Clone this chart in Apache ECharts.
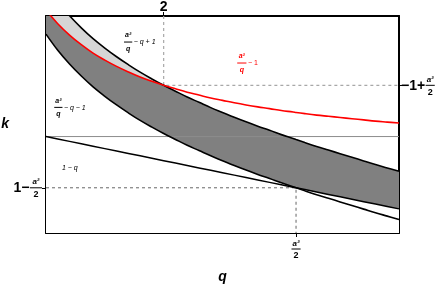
<!DOCTYPE html>
<html><head><meta charset="utf-8">
<script src="https://cdn.jsdelivr.net/npm/echarts@6/dist/echarts.min.js"></script>
<style>html,body{margin:0;padding:0;background:#fff}#c{width:436px;height:285px}</style>
</head><body><div id="c"></div>
<script>
// q sample points
const qVals = [1.0,1.1,1.2,1.3,1.4,1.5,1.6,1.7,1.8,1.9,2.0,2.1,2.2,2.3,2.4,2.5,2.6,2.7,2.8,2.9,3.0,3.1,3.125,3.2,3.3,3.4,3.5,3.6,3.7,3.8,3.9,4.0];
// a²/q − q + 1
const upperVals = [6.25,5.58,5.01,4.51,4.06,3.67,3.31,2.98,2.67,2.39,2.125,1.88,1.64,1.42,1.20,1.00,0.80,0.61,0.43,0.26,0.08,-0.08,-0.125,-0.25,-0.41,-0.56,-0.71,-0.86,-1.01,-1.16,-1.30,-1.44];
// a²/q − q − 1
const lowerVals = [4.25,3.58,3.01,2.51,2.06,1.67,1.31,0.98,0.67,0.39,0.125,-0.12,-0.36,-0.58,-0.80,-1.00,-1.20,-1.39,-1.57,-1.74,-1.92,-2.08,-2.125,-2.25,-2.41,-2.56,-2.71,-2.86,-3.01,-3.16,-3.30,-3.44];
// a²/q − 1
const redVals = [5.25,4.68,4.21,3.81,3.46,3.17,2.91,2.68,2.47,2.29,2.125,1.98,1.84,1.72,1.60,1.50,1.40,1.31,1.23,1.16,1.08,1.02,1.00,0.95,0.89,0.84,0.79,0.74,0.69,0.64,0.60,0.56];
// 1 − q
const lineVals = [0,-0.1,-0.2,-0.3,-0.4,-0.5,-0.6,-0.7,-0.8,-0.9,-1.0,-1.1,-1.2,-1.3,-1.4,-1.5,-1.6,-1.7,-1.8,-1.9,-2.0,-2.1,-2.125,-2.2,-2.3,-2.4,-2.5,-2.6,-2.7,-2.8,-2.9,-3.0];
const zeroVals = [[1,0],[4,0]];
const qRange = [1, 4];
const kRange = [-4, 5];
const qMark = 2;          // top tick
const kMarkTop = 2.125;   // −1 + a²/2
const qMarkBottom = 3.125; // a²/2
const kMarkBottom = -2.125; // 1 − a²/2

const pairs = v => qVals.map((q, i) => [q, v[i]]);
const darkLow = qVals.map((q, i) => Math.max(lowerVals[i], lineVals[i]));
const darkHigh = qVals.map((q, i) => Math.min(upperVals[i], redVals[i]));

const FONT = "'Liberation Sans', Arial, sans-serif";
const chart = echarts.init(document.getElementById('c'), null, {renderer: 'canvas'});

function axisCommon(pos, tickVals) {
  return {
    position: pos, type: 'value',
    axisLine: {show: true, onZero: false, lineStyle: {color: '#000', width: 2}},
    axisTick: {show: true, customValues: tickVals, length: 4, inside: false, lineStyle: {color: '#000', width: 1}},
    splitLine: {show: false},
    axisLabel: {show: false}
  };
}

const fillStyle = {type: 'line', symbol: 'none', showSymbol: false, silent: true, smooth: 0.4, lineStyle: {opacity: 0, width: 0}};

const option = {
  animation: false,
  grid: {left: 46, right: 37, top: 16, bottom: 52, outerBoundsMode: 'none', containLabel: false},
  xAxis: [
    Object.assign(axisCommon('bottom', [qMarkBottom]), {min: qRange[0], max: qRange[1],
      name: 'q', nameLocation: 'middle', nameGap: 37,
      nameTextStyle: {fontFamily: FONT, fontSize: 14, fontWeight: 'bold', fontStyle: 'italic', color: '#000'}}),
    Object.assign(axisCommon('top', [qMark]), {min: qRange[0], max: qRange[1],
      axisLabel: {show: true, customValues: [qMark], formatter: v => String(v), margin: 2,
        fontFamily: FONT, fontSize: 14, fontWeight: 'bold', color: '#000'}})
  ],
  yAxis: [
    Object.assign(axisCommon('left', [kMarkBottom]), {min: kRange[0], max: kRange[1],
      name: 'k', nameLocation: 'middle', nameGap: 37, nameRotate: 0,
      nameTextStyle: {fontFamily: FONT, fontSize: 14, fontWeight: 'bold', fontStyle: 'italic', color: '#000', padding: [8, 0, 0, 0]}}),
    Object.assign(axisCommon('right', [kMarkTop]), {min: kRange[0], max: kRange[1]})
  ],
  series: [
    Object.assign({}, fillStyle, {data: pairs(upperVals), areaStyle: {color: '#d6d6d6', opacity: 1, origin: 'start'}, z: 1}),
    Object.assign({}, fillStyle, {data: pairs(darkHigh), areaStyle: {color: '#808080', opacity: 1, origin: 'start'}, z: 1}),
    Object.assign({}, fillStyle, {data: pairs(darkLow), smooth: false, areaStyle: {color: '#ffffff', opacity: 1, origin: 'start'}, z: 1}),
    {type: 'line', data: zeroVals, symbol: 'none', silent: true, lineStyle: {color: '#8c8c8c', width: 1}, z: 3},
    {type: 'line', data: [[qMark, kRange[1]], [qMark, kMarkTop], [qRange[1], kMarkTop]], symbol: 'none', silent: true,
      lineStyle: {color: '#a8a8a8', width: 1.2, type: [3, 3]}, z: 3},
    {type: 'line', data: [[qRange[0], kMarkBottom], [qMarkBottom, kMarkBottom], [qMarkBottom, kRange[0]]], symbol: 'none', silent: true,
      lineStyle: {color: '#666', width: 1, type: [3, 3]}, z: 3},
    {type: 'line', data: pairs(lineVals), symbol: 'none', silent: true, lineStyle: {color: '#000', width: 1.5}, z: 4},
    {type: 'line', data: pairs(lowerVals), symbol: 'none', smooth: 0.4, silent: true, lineStyle: {color: '#000', width: 1.6}, z: 4},
    {type: 'line', data: pairs(upperVals), symbol: 'none', smooth: 0.4, silent: true, lineStyle: {color: '#000', width: 1.6}, z: 4},
    {type: 'line', data: pairs(redVals), symbol: 'none', smooth: 0.4, silent: true, lineStyle: {color: '#ff0000', width: 1.6}, z: 5}
  ]
};
chart.setOption(option);

const mctx = document.createElement('canvas').getContext('2d');
function tw(t, f) { mctx.font = f; return mctx.measureText(t).width; }
function txt(x, y, text, font, color, align, valign) {
  return {type: 'text', x: x, y: y, silent: true, z: 20,
    style: {text: text, font: font, fill: color, align: align, textAlign: align, verticalAlign: valign, textVerticalAlign: valign}};
}
function fracLabel(o) {
  const ch = [];
  let cx = 0;
  if (o.prefix) {
    ch.push(txt(0, 0.5, o.prefix, o.prefixFont, o.color, 'left', 'middle'));
    cx = tw(o.prefix, o.prefixFont) + 0.5;
  }
  const bw = Math.max(tw(o.num, o.numFont), tw(o.den, o.denFont)) + (o.barPad || 2);
  ch.push({type: 'rect', silent: true, z: 20, shape: {x: cx, y: -0.5, width: bw, height: 1}, style: {fill: o.color}});
  ch.push(txt(cx + bw / 2, -(o.numGap || 1.5), o.num, o.numFont, o.color, 'center', 'bottom'));
  ch.push(txt(cx + bw / 2, (o.denGap || 2), o.den, o.denFont, o.color, 'center', 'top'));
  cx += bw;
  if (o.suffix) {
    const g = o.gap || 2;
    ch.push(txt(cx + g, 0.5, o.suffix, o.suffixFont, o.color, 'left', 'middle'));
    cx += g + tw(o.suffix, o.suffixFont);
  }
  let gx = o.x;
  if (o.anchor === 'right') gx -= cx; else if (o.anchor === 'center') gx -= cx / 2;
  return {type: 'group', x: gx, y: o.y, silent: true, z: 20, children: ch};
}
const px = (q, k) => chart.convertToPixel({xAxisIndex: 0, yAxisIndex: 0}, [q, k]);
const smallB = "bold 9px " + FONT, smallBI = "italic bold 8px " + FONT;
const cur = "7px " + FONT, curI = "italic 7px " + FONT, curIB = "italic bold 7px " + FONT;
const bigB = "bold 14px " + FONT;

const pTop = px(qRange[1], kMarkTop);
const pBot = px(qRange[0], kMarkBottom);
const pAx = px(qMarkBottom, kRange[0]);
const pU = px(1.663, 3.92);
const pR = px(2.625, 3.05);
const pL = px(1.07, 1.21);
const pS = px(1.135, -1.29);

chart.setOption({graphic: [
  fracLabel({x: pTop[0] + 2, y: pTop[1], anchor: 'left', prefix: '\u22121+', prefixFont: bigB, num: 'a\u00b2', numFont: smallBI, den: '2', denFont: smallB, color: '#000', denGap: 2.5}),
  fracLabel({x: pBot[0] - 4, y: pBot[1], anchor: 'right', prefix: '1\u2212', prefixFont: bigB, num: 'a\u00b2', numFont: smallBI, den: '2', denFont: smallB, color: '#000', barPad: 5, denGap: 2.5}),
  fracLabel({x: pAx[0], y: pAx[1] + 16, anchor: 'center', num: 'a\u00b2', numFont: smallBI, den: '2', denFont: smallB, color: '#000', denGap: 2.5}),
  fracLabel({x: pU[0], y: pU[1], anchor: 'left', num: 'a\u00b2', numFont: curIB, den: 'q', denFont: curIB, suffix: '\u2212 q + 1', suffixFont: curI, color: '#000', barPad: 2, gap: 1.5, numGap: 3, denGap: 3.5}),
  fracLabel({x: pR[0], y: pR[1], anchor: 'left', num: 'a\u00b2', numFont: curIB, den: 'q', denFont: curIB, suffix: '\u2212 1', suffixFont: cur, color: '#ff0000', barPad: 3, gap: 1.5, numGap: 3.5, denGap: 4}),
  fracLabel({x: pL[0], y: pL[1], anchor: 'left', num: 'a\u00b2', numFont: curIB, den: 'q', denFont: curIB, suffix: '\u2212 q \u2212 1', suffixFont: curI, color: '#000', barPad: 2, gap: 1.5, numGap: 3, denGap: 3.5}),
  txt(pS[0], pS[1], '1 \u2212 q', curI, '#000', 'left', 'middle')
]});
</script>
</body></html>
